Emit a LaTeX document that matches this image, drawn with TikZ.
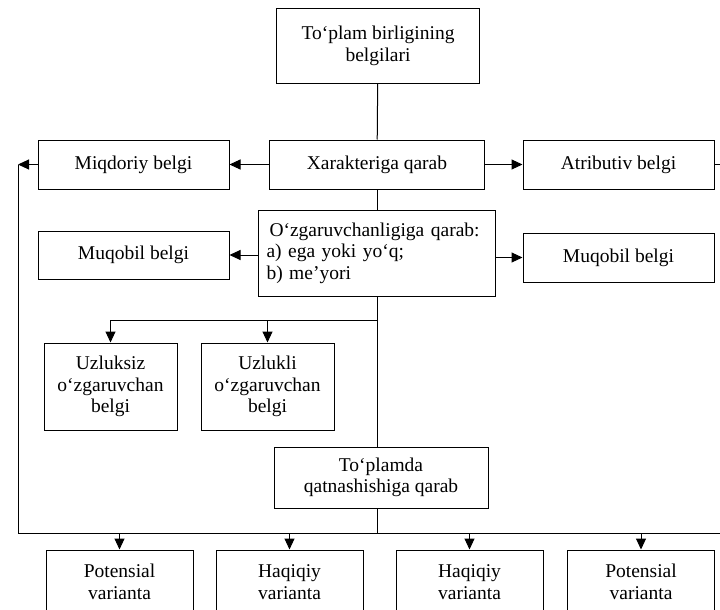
\documentclass[tikz,border=0pt]{standalone}
\usepackage{fontspec}
\setmainfont{Liberation Serif}
\usetikzlibrary{arrows.meta}
\begin{document}
\begin{tikzpicture}[>={Triangle[length=11pt,width=10pt]}, x=1pt, y=-1pt, line width=1pt,
	box/.style={draw, align=center, inner sep=2pt, font=\fontsize{19.5}{21.5}\selectfont}]
	\clip (0,0) rectangle (720,610);
	% boxes
	\node[box, minimum width=203, minimum height=74] (top) at (378,46) {To‘plam birligining\\belgilari};
	\node[box, minimum width=215, minimum height=49] (xar) at (377,164.5) {Xarakteriga qarab};
	\node[box, minimum width=191, minimum height=49] (miq) at (133.5,164.5) {Miqdoriy belgi};
	\node[box, minimum width=191, minimum height=49] (atr) at (618.5,164.5) {Atributiv belgi};
	\node[box, minimum width=237, minimum height=86, text width=221, align=left] (ozg) at (377,253)
		{\hspace*{3pt}O‘zgaruvchanligiga qarab:\\a) ega yoki yo‘q;\\b) me’yori};
	\node[box, minimum width=191, minimum height=48] (muqL) at (133.5,255) {Muqobil belgi};
	\node[box, minimum width=191, minimum height=49] (muqR) at (618.5,257.5) {Muqobil belgi};
	\node[box, minimum width=133, minimum height=87] (uzs) at (110.5,386.5) {Uzluksiz\\o‘zgaruvchan\\belgi};
	\node[box, minimum width=133, minimum height=87] (uzl) at (267.5,386.5) {Uzlukli\\o‘zgaruvchan\\belgi};
	\node[box, minimum width=214, minimum height=61] (tpd) at (381,477.5) {To‘plamda\\qatnashishiga qarab};
	\node[box, minimum width=147, minimum height=64] (p1) at (119.5,582) {Potensial\\varianta};
	\node[box, minimum width=147, minimum height=64] (h1) at (289.5,582) {Haqiqiy\\varianta};
	\node[box, minimum width=147, minimum height=64] (h2) at (469.5,582) {Haqiqiy\\varianta};
	\node[box, minimum width=147, minimum height=64] (p2) at (641,582) {Potensial\\varianta};
	% points of the lines
	\coordinate (lt) at (18,164.5);
	\coordinate (lb) at (18,533);
	\coordinate (rt) at (740,164.5);
	\coordinate (rb) at (740,533);
	\coordinate (br) at (378,320);
	% trunk
	\draw (top) -- (xar);
	\draw (xar) -- (ozg);
	\draw (ozg.south) -- (ozg.south |- tpd.north);
	\draw (ozg.south |- tpd.south) -- (ozg.south |- lb);
	% side arrows
	\draw[->] (xar) -- (miq);
	\draw[->] (xar) -- (atr);
	\draw[->] (ozg.west |- muqL) -- (muqL);
	\draw[->] (ozg.east |- muqR) -- (muqR);
	\draw[->] (miq) -- (lt);
	\draw[->] (atr) -- (rt);
	\draw (lt) -- (lb) -- (rb) -- (rt);
	% branch
	\draw[->] (br) -| (uzs);
	\draw[->] (br) -| (uzl);
	% bottom row
	\foreach \b in {p1,h1,h2,p2}{\draw[->] (\b |- lb) -- (\b);}
\end{tikzpicture}
\end{document}
